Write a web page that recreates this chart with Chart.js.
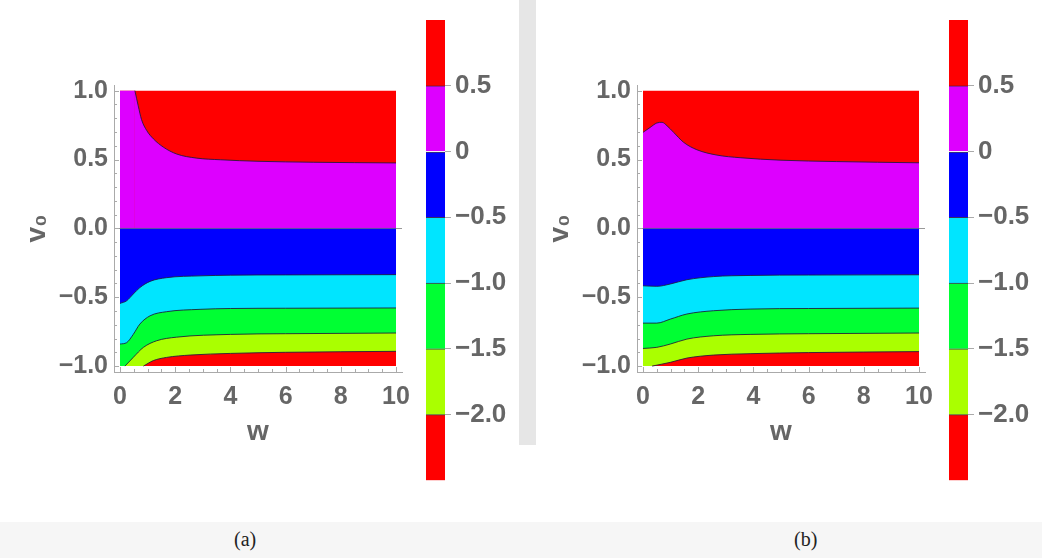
<!DOCTYPE html>
<html>
<head>
<meta charset="utf-8">
<script src="https://cdn.jsdelivr.net/npm/chart.js@4.4.1/dist/chart.umd.min.js"></script>
<style>
  body { margin: 0; width: 1042px; height: 558px; background: #fff; position: relative; overflow: hidden; }
  canvas { position: absolute; }
  .band { position: absolute; left: 519px; top: 0; width: 17px; height: 445px; background: #e6e6e6; }
  .foot { position: absolute; left: 0; top: 522px; width: 1042px; height: 36px; background: #f6f6f6; }
  .cap { position: absolute; top: 528px; font: 20px "Liberation Serif", "DejaVu Serif", serif; color: #222; }
</style>
</head>
<body>
<div class="band"></div>
<div class="foot"></div>
<canvas id="plotA" width="420" height="470" style="left:0;top:0"></canvas>
<canvas id="barA" width="130" height="500" style="left:400px;top:0"></canvas>
<canvas id="plotB" width="420" height="470" style="left:523px;top:0"></canvas>
<canvas id="barB" width="130" height="500" style="left:923px;top:0"></canvas>
<div class="cap" style="left:234px">(a)</div>
<div class="cap" style="left:794px">(b)</div>
<script>
// contour levels, bottom region first
const bandColors = ['#FF0000', '#AAFF00', '#00FF33', '#00E5FF', '#0000FF', '#DD00FF', '#FF0000'];
const barEdges = [-2.5, -2.0, -1.5, -1.0, -0.5, 0, 0.5, 1.0];
const barTicks = [0.5, 0, -0.5, -1.0, -1.5, -2.0];
const barTickLabels = ['0.5', '0', '\u22120.5', '\u22121.0', '\u22121.5', '\u22122.0'];

const xTicks = [0, 2, 4, 6, 8, 10];
const xTickLabels = ['0', '2', '4', '6', '8', '10'];
const yTicks = [1.0, 0.5, 0, -0.5, -1.0];
const yTickLabels = ['1.0', '0.5', '0.0', '\u22120.5', '\u22121.0'];

// panel (a)
const wA_p05 = [0.54, 0.66, 0.78, 0.97, 1.21, 1.57, 2.05, 2.78, 3.65, 5, 7, 10];
const vA_p05 = [1.0, 0.89, 0.79, 0.71, 0.65, 0.59, 0.54, 0.51, 0.498, 0.487, 0.48, 0.475];
const wA_0 = [0, 10];
const vA_0 = [0, 0];
const wA_m05 = [0, 0.24, 0.48, 0.72, 1.09, 1.69, 2.9, 4, 6, 10];
const vA_m05 = [-0.545, -0.526, -0.477, -0.43, -0.385, -0.358, -0.345, -0.34, -0.338, -0.336];
const wA_m10 = [0, 0.24, 0.48, 0.72, 1.09, 1.69, 2.9, 4, 6, 10];
const vA_m10 = [-0.84, -0.83, -0.77, -0.695, -0.635, -0.605, -0.588, -0.582, -0.58, -0.578];
const wA_m15 = [0.18, 0.48, 0.85, 1.33, 2.05, 4, 6, 10];
const vA_m15 = [-1.0, -0.937, -0.864, -0.816, -0.79, -0.77, -0.765, -0.76];
const wA_m20 = [0.85, 1.21, 1.69, 2.54, 4, 6, 10];
const vA_m20 = [-1.0, -0.96, -0.937, -0.92, -0.908, -0.9, -0.893];

// panel (b)
const wB_p05 = [0, 0.26, 0.5, 0.69, 0.87, 1.11, 1.47, 1.95, 2.68, 3.52, 5, 7, 10];
const vB_p05 = [0.697, 0.733, 0.765, 0.77, 0.745, 0.697, 0.625, 0.571, 0.532, 0.513, 0.495, 0.485, 0.476];
const wB_0 = [0, 10];
const vB_0 = [0, 0];
const wB_m05 = [0, 0.5, 0.99, 1.59, 2.56, 3.88, 6, 10];
const vB_m05 = [-0.417, -0.421, -0.404, -0.373, -0.35, -0.342, -0.339, -0.337];
const wB_m10 = [0, 0.5, 0.99, 1.59, 2.56, 3.88, 6, 10];
const vB_m10 = [-0.688, -0.688, -0.659, -0.622, -0.598, -0.586, -0.582, -0.579];
const wB_m15 = [0, 0.5, 0.99, 1.59, 2.56, 3.88, 6, 10];
const vB_m15 = [-0.872, -0.864, -0.84, -0.804, -0.78, -0.77, -0.765, -0.76];
const wB_m20 = [0.33, 0.99, 1.59, 2.56, 3.88, 6, 10];
const vB_m20 = [-1.0, -0.973, -0.942, -0.92, -0.91, -0.902, -0.895];

// plot frame
const wRange = [0, 10];
const vTop = [1, 1];
const vBottom = -1;

const lineColor = 'rgba(30,25,60,0.85)';
const gray = '#666';
const axisGray = '#aaa';

function pts(ws, vs) {
  return ws.map((w, i) => ({x: w, y: vs[i]}));
}

function layer(data, color, border) {
  return {
    data: data,
    backgroundColor: color,
    borderColor: border || lineColor,
    borderWidth: border === 'none' ? 0 : 1,
    fill: {value: vBottom},
    pointRadius: 0,
    cubicInterpolationMode: 'monotone',
    clip: 0
  };
}

const innerTicks = {
  id: 'innerTicks',
  afterDraw(chart) {
    const {ctx, chartArea, scales} = chart;
    if (!scales.x || scales.x.type !== 'linear') return;
    ctx.save();
    ctx.strokeStyle = axisGray;
    ctx.lineWidth = 1;
    ctx.beginPath();
    for (let k = 0; k <= 20; k++) {
      const px = Math.round(scales.x.getPixelForValue(k * 0.5)) + 0.5;
      const len = k % 4 === 0 ? 5 : 3;
      ctx.moveTo(px, chartArea.bottom);
      ctx.lineTo(px, chartArea.bottom - len);
    }
    for (let k = -10; k <= 10; k++) {
      const py = Math.round(scales.y.getPixelForValue(k / 10)) + 0.5;
      const len = k % 5 === 0 ? 5 : 3;
      ctx.moveTo(chartArea.left, py);
      ctx.lineTo(chartArea.left + len, py);
    }
    ctx.stroke();
    ctx.restore();
  }
};

function makeContour(id, layers) {
  new Chart(document.getElementById(id), {
    type: 'line',
    data: {datasets: layers},
    options: {
      responsive: false,
      animation: false,
      devicePixelRatio: 1,
      layout: {padding: {top: 85, right: 18, left: 0, bottom: 0}},
      plugins: {legend: {display: false}, tooltip: {enabled: false}},
      scales: {
        x: {
          type: 'linear',
          min: -0.217, max: 10.217,
          afterFit: s => { s.height = 98; },
          afterBuildTicks: s => { s.ticks = xTicks.map(v => ({value: v})); },
          grid: {display: false},
          border: {display: true, color: axisGray},
          ticks: {
            padding: 2, color: gray,
            font: {family: 'Liberation Sans', size: 25, weight: 'bold'},
            callback: (v, i) => xTickLabels[i]
          },
          title: {
            display: true, text: 'w', color: gray, padding: {bottom: 21, top: 0},
            font: {family: 'Liberation Sans', size: 28, weight: 'bold'}
          }
        },
        y: {
          type: 'linear',
          min: -1.043, max: 1.041,
          afterFit: s => { s.width = 114; },
          afterBuildTicks: s => { s.ticks = yTicks.map(v => ({value: v})); },
          grid: {
            drawTicks: false,
            color: c => (c.tick && c.tick.value === 0 ? '#999' : 'rgba(0,0,0,0)')
          },
          border: {display: true, color: axisGray},
          ticks: {
            padding: 6, color: gray,
            font: {family: 'Liberation Sans', size: 25, weight: 'bold'},
            callback: (v, i) => yTickLabels[i]
          },
          title: {
            display: true, text: 'v\u2080', color: gray, padding: {top: 20, bottom: 0},
            font: {family: 'Liberation Sans', size: 28, weight: 'bold'}
          }
        }
      }
    },
    plugins: [innerTicks]
  });
}

function makeBar(id) {
  const sets = [];
  for (let i = 0; i < bandColors.length; i++) {
    sets.push({
      data: [[barEdges[i], barEdges[i + 1]]],
      backgroundColor: bandColors[i],
      borderColor: lineColor,
      borderWidth: i < bandColors.length - 1 ? {top: 1, bottom: 0, left: 0, right: 0} : 0,
      borderSkipped: false,
      grouped: false,
      barPercentage: 1,
      categoryPercentage: 1
    });
  }
  new Chart(document.getElementById(id), {
    type: 'bar',
    data: {labels: ['c'], datasets: sets},
    options: {
      responsive: false,
      animation: false,
      devicePixelRatio: 1,
      layout: {padding: {top: 20, left: 26, right: 0, bottom: 17}},
      plugins: {legend: {display: false}, tooltip: {enabled: false}},
      scales: {
        x: {display: false},
        y: {
          position: 'right',
          min: -2.5, max: 1.0,
          afterFit: s => { s.width = 85; },
          afterBuildTicks: s => { s.ticks = barTicks.map(v => ({value: v})); },
          grid: {drawOnChartArea: false, drawTicks: true, tickLength: 6, color: axisGray},
          border: {display: false},
          ticks: {
            padding: 4, color: gray,
            font: {family: 'Liberation Sans', size: 26, weight: 'bold'},
            callback: (v, i) => barTickLabels[i]
          }
        }
      }
    }
  });
}

// bottom-most region drawn last (first dataset is on top)
makeContour('plotA', [
  layer(pts(wA_m20, vA_m20), bandColors[0]),
  layer(pts(wA_m15, vA_m15), bandColors[1]),
  layer(pts(wA_m10, vA_m10), bandColors[2]),
  layer(pts(wA_m05, vA_m05), bandColors[3]),
  layer(pts(wA_0, vA_0), bandColors[4], 'rgba(110,110,130,0.8)'),
  layer(pts(wA_p05, vA_p05), bandColors[5]),
  layer(pts([0, wA_p05[0]], vTop), bandColors[5], 'none'),
  layer(pts(wRange, vTop), bandColors[6], 'none')
]);

makeContour('plotB', [
  layer(pts(wB_m20, vB_m20), bandColors[0]),
  layer(pts(wB_m15, vB_m15), bandColors[1]),
  layer(pts(wB_m10, vB_m10), bandColors[2]),
  layer(pts(wB_m05, vB_m05), bandColors[3]),
  layer(pts(wB_0, vB_0), bandColors[4], 'rgba(110,110,130,0.8)'),
  layer(pts(wB_p05, vB_p05), bandColors[5]),
  layer(pts(wRange, vTop), bandColors[6], 'none')
]);

makeBar('barA');
makeBar('barB');
</script>
</body>
</html>
